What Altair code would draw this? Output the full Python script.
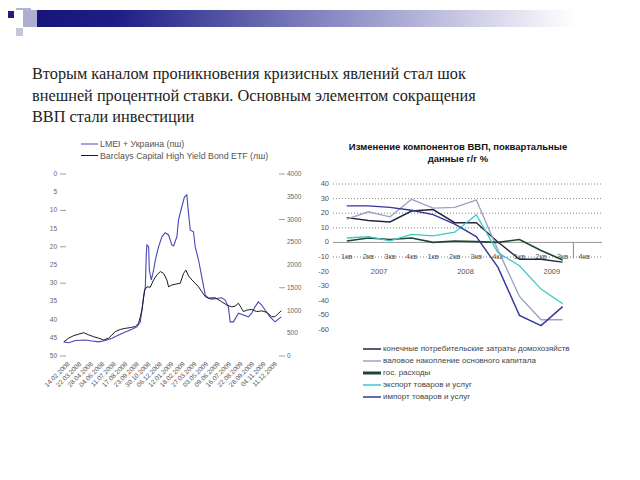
import altair as alt
import pandas as pd

# ---------------- data ----------------
PARAGRAPH = [
    "Вторым каналом проникновения кризисных явлений стал шок",
    "внешней процентной ставки. Основным элементом сокращения",
    "ВВП стали  инвестиции",
]

LEFT_LEGEND = ["LMEI + Украина (пш)", "Barclays Capital High Yield Bond ETF (лш)"]
DATE_LABELS = ["14.02.2008", "22.03.2008", "28.04.2008", "04.06.2008", "11.07.2008",
               "17.08.2008", "23.09.2008", "30.10.2008", "06.12.2008", "12.01.2009",
               "18.02.2009", "27.03.2009", "03.05.2009", "09.06.2009", "16.07.2009",
               "22.08.2009", "28.09.2009", "04.11.2009", "11.12.2009"]

# position along the date axis (in label intervals) and spread, bp (right scale)
LMEI_POS = [-0.43, 0, 0.58, 1.45, 2.02, 2.60, 3.18, 3.75, 4.33, 4.91, 5.48, 5.91, 6.21, 6.35,
            6.49, 6.64, 6.73, 6.78, 6.93, 6.99, 7.16, 7.36, 7.51, 7.79, 8.08, 8.37, 8.66,
            8.94, 9.09, 9.38, 9.52, 9.81, 10.04, 10.24, 10.39, 10.54, 10.82, 10.97, 11.26,
            11.54, 11.84, 12.12, 12.41, 12.99, 13.27, 13.57, 13.85, 14.0, 14.29, 14.72,
            15.15, 15.58, 15.87, 16.16, 16.45, 16.74, 17.03, 17.46, 17.9, 18.18, 18.44]
LMEI_BP = [310, 290, 340, 350, 330, 310, 340, 390, 460, 530, 590, 640, 750, 1010, 1300,
           1520, 2260, 2440, 2400, 1890, 1670, 1890, 2110, 2400, 2620, 2710, 2660, 2440,
           2420, 2620, 2990, 3280, 3500, 3540, 3140, 2770, 2730, 2400, 2110, 1740, 1340,
           1270, 1250, 1270, 1280, 1230, 1080, 750, 750, 940, 900, 860, 940, 1080, 1190,
           1120, 1010, 860, 750, 810, 860]

# Barclays HY ETF (left, inverted scale)
HY_POS = [-0.43, 0, 0.43, 0.87, 1.30, 1.73, 2.16, 2.60, 3.03, 3.46, 3.75, 4.04, 4.48, 4.91,
          5.34, 5.77, 6.06, 6.35, 6.58, 6.78, 7.07, 7.36, 7.65, 7.94, 8.23, 8.51, 8.66, 8.94,
          9.38, 9.67, 9.96, 10.16, 10.39, 10.68, 10.97, 11.26, 11.54, 11.84, 12.12, 12.70,
          13.27, 13.71, 14.14, 14.43, 14.72, 14.95, 15.15, 15.44, 15.87, 16.30, 16.74,
          17.17, 17.60, 17.90, 18.18, 18.44]
HY_VAL = [46.1, 45.1, 44.4, 44.0, 43.6, 44.2, 44.7, 45.1, 45.6, 45.1, 44.2, 43.3, 42.7,
          42.4, 42.2, 41.9, 41.0, 37.4, 31.9, 31.0, 31.1, 29.1, 27.7, 26.8, 27.3, 29.1,
          31.0, 30.5, 30.2, 30.0, 27.3, 26.4, 28.0, 29.1, 30.0, 31.0, 32.3, 33.7, 34.1,
          34.0, 35.1, 36.0, 36.5, 36.3, 35.5, 36.7, 37.8, 37.4, 37.2, 37.8, 37.6, 38.0,
          39.2, 39.2, 38.3, 37.6]

LEFT_TICKS = [0, 5, 10, 15, 20, 25, 30, 35, 40, 45, 50]
LEFT_TICK_MARKS = [0, 10, 20, 30, 50]
RIGHT_TICKS = [0, 500, 1000, 1500, 2000, 2500, 3000, 3500, 4000]
RIGHT_TICK_MARKS = [0, 1500, 3000, 4000]

RIGHT_TITLE = ["Изменение компонентов ВВП, поквартальные", "данные г/г %"]
QUARTERS = ["1кв", "2кв", "3кв", "4кв", "1кв", "2кв", "3кв", "4кв", "1кв", "2кв", "3кв", "4кв"]
YEARS = ["2007", "2008", "2009"]
YEAR_POS = [1.5, 5.5, 9.5]
SEPARATORS = [10.5]

SERIES = ["конечные потребительские затраты домохозяйств",
          "валовое накопление основного капитала",
          "гос. расходы",
          "экспорт товаров и услуг",
          "импорт товаров и услуг"]
HOUSEHOLD = [17, 15, 14, 21.5, 22.5, 13.5, 13.5, 0.3, -11.5, -11.5, -13.5]
INVESTMENT = [16, 21, 17.5, 29.5, 23.5, 24, 29, -5, -37, -53, -53]
GOVERNMENT = [1, 3, 2, 3, 0, 1, 0.5, 0, 2, -5.5, -12]
EXPORT = [3, 4, 1, 5.5, 4.5, 7, 19, -7, -16, -32, -42]
IMPORT = [25, 25, 24, 22, 19, 12.5, 4, -17, -50, -57, -44]
SERIES_VALUES = [HOUSEHOLD, INVESTMENT, GOVERNMENT, EXPORT, IMPORT]
SERIES_COLORS = ["#24243c", "#9ba3c6", "#1f4536", "#3cc8c8", "#34349a"]
SERIES_WIDTHS = [1.4, 1.4, 1.6, 1.3, 1.4]

R_Y_TICKS = [40, 30, 20, 10, 0, -10, -20, -30, -40, -50, -60]
R_GRID = [40, 30, 20, 10, -10]

# ---------------- layout helpers ----------------
M = 8  # page margin
W, H = 624, 464


def cx(p):
    return p - M


SANS = "Liberation Sans"
dummy = pd.DataFrame({"a": [0]})
layers = []


def text_at(txt, x, y, size, font=SANS, color="#444", align="left", baseline="middle",
            weight="normal"):
    return alt.Chart(pd.DataFrame({"t": [txt]})).mark_text(
        align=align, baseline=baseline, font=font, fontSize=size, color=color,
        fontWeight=weight
    ).encode(x=alt.value(x), y=alt.value(y), text="t:N")


# ---------------- slide header ----------------
grad = alt.Gradient(
    gradient="linear",
    stops=[alt.GradientStop(color="#15157a", offset=0),
           alt.GradientStop(color="#1e1e86", offset=0.15),
           alt.GradientStop(color="#8a8ac4", offset=0.55),
           alt.GradientStop(color="#ffffff", offset=1)],
    x1=0, x2=1, y1=0, y2=0)
layers.append(alt.Chart(dummy).mark_rect(color=grad).encode(
    x=alt.value(cx(36)), x2=alt.value(cx(575)), y=alt.value(cx(10)), y2=alt.value(cx(27))))
for (x0, y0, x1, y1, c) in [(8, 11, 14, 18, "#20207a"), (16, 8, 31, 10, "#b4b4d8"),
                            (23, 10, 37, 27, "#aeaed2"), (16, 28, 23, 36, "#c6c6d6")]:
    layers.append(alt.Chart(dummy).mark_rect(color=c).encode(
        x=alt.value(cx(x0)), x2=alt.value(cx(x1)), y=alt.value(cx(y0)), y2=alt.value(cx(y1))))

for i, line in enumerate(PARAGRAPH):
    layers.append(text_at(line, cx(32), cx([79, 101, 122][i]), 16.3,
                          font="Liberation Serif", color="#222", baseline="alphabetic"))

# ---------------- left chart ----------------
LX = alt.Scale(domain=[-0.5, 18.5], range=[cx(63), cx(282)], nice=False, zero=False)
LY_BP = alt.Scale(domain=[0, 4000], range=[cx(356), cx(174)], nice=False, zero=False)
LY_HY = alt.Scale(domain=[0, 50], range=[cx(174), cx(356)], nice=False, zero=False)

df_lmei = pd.DataFrame({"x": LMEI_POS, "v": LMEI_BP})
df_hy = pd.DataFrame({"x": HY_POS, "v": HY_VAL})

layers.append(alt.Chart(df_lmei).mark_line(color="#4848b8", strokeWidth=1.1).encode(
    x=alt.X("x:Q", scale=LX, axis=None), y=alt.Y("v:Q", scale=LY_BP, axis=None)))
layers.append(alt.Chart(df_hy).mark_line(color="#1c1c1c", strokeWidth=1.0).encode(
    x=alt.X("x:Q", scale=LX, axis=None), y=alt.Y("v:Q", scale=LY_HY, axis=None)))

# left axis
df_lt = pd.DataFrame({"v": LEFT_TICKS, "t": [str(v) for v in LEFT_TICKS]})
layers.append(alt.Chart(df_lt).mark_text(align="right", baseline="middle", font=SANS,
                                         fontSize=6.5, color="#666").encode(
    x=alt.value(cx(57)), y=alt.Y("v:Q", scale=LY_HY, axis=None), text="t:N"))
layers.append(alt.Chart(pd.DataFrame({"v": LEFT_TICK_MARKS})).mark_rule(
    color="#888", strokeWidth=0.8).encode(
    x=alt.value(cx(60)), x2=alt.value(cx(66)), y=alt.Y("v:Q", scale=LY_HY, axis=None)))
# right axis
df_rt = pd.DataFrame({"v": RIGHT_TICKS, "t": [str(v) for v in RIGHT_TICKS]})
layers.append(alt.Chart(df_rt).mark_text(align="left", baseline="middle", font=SANS,
                                         fontSize=6.5, color="#666").encode(
    x=alt.value(cx(287)), y=alt.Y("v:Q", scale=LY_BP, axis=None), text="t:N"))
layers.append(alt.Chart(pd.DataFrame({"v": RIGHT_TICK_MARKS})).mark_rule(
    color="#888", strokeWidth=0.8).encode(
    x=alt.value(cx(279)), x2=alt.value(cx(285)), y=alt.Y("v:Q", scale=LY_BP, axis=None)))
# date labels
df_dl = pd.DataFrame({"x": list(range(len(DATE_LABELS))), "t": DATE_LABELS})
layers.append(alt.Chart(df_dl).mark_text(align="right", baseline="middle", font=SANS,
                                         fontSize=6.5, color="#555", angle=315).encode(
    x=alt.X("x:Q", scale=LX, axis=None), y=alt.value(cx(363)), text="t:N"))
# legend
for i, (lab, col) in enumerate(zip(LEFT_LEGEND, ["#4848b8", "#1c1c1c"])):
    yy = cx([144, 155.5][i])
    layers.append(alt.Chart(dummy).mark_rule(color=col, strokeWidth=1).encode(
        x=alt.value(cx(81)), x2=alt.value(cx(98)), y=alt.value(yy)))
    layers.append(text_at(lab, cx(100), yy, 8.8, color="#555"))

# ---------------- right chart ----------------
RX = alt.Scale(domain=[-0.5, 11.5], range=[cx(336), cx(595)], nice=False, zero=False)
RY = alt.Scale(domain=[-60, 40], range=[cx(330), cx(184)], nice=False, zero=False)

for i, line in enumerate(RIGHT_TITLE):
    layers.append(text_at(line, cx(458), cx([149.5, 161.5][i]), 9.5, color="#111",
                          align="center", baseline="alphabetic", weight="bold"))

layers.append(alt.Chart(pd.DataFrame({"v": R_GRID})).mark_rule(
    color="#666", strokeWidth=0.8, strokeDash=[1, 2]).encode(
    x=alt.value(cx(333)), x2=alt.value(cx(602)), y=alt.Y("v:Q", scale=RY, axis=None)))
layers.append(alt.Chart(pd.DataFrame({"v": [0]})).mark_rule(
    color="#999", strokeWidth=1).encode(
    x=alt.value(cx(333)), x2=alt.value(cx(602)), y=alt.Y("v:Q", scale=RY, axis=None)))
layers.append(alt.Chart(pd.DataFrame({"x": SEPARATORS, "y0": [0], "y1": [-11]})).mark_rule(
    color="#888", strokeWidth=1).encode(
    x=alt.X("x:Q", scale=RX, axis=None),
    y=alt.Y("y0:Q", scale=RY, axis=None), y2="y1:Q"))

df_ry = pd.DataFrame({"v": R_Y_TICKS, "t": [str(v) for v in R_Y_TICKS]})
layers.append(alt.Chart(df_ry).mark_text(align="right", baseline="middle", font=SANS,
                                         fontSize=7.5, color="#555").encode(
    x=alt.value(cx(329)), y=alt.Y("v:Q", scale=RY, axis=None), text="t:N"))

df_q = pd.DataFrame({"x": list(range(len(QUARTERS))), "t": QUARTERS, "v": [-10] * len(QUARTERS)})
layers.append(alt.Chart(df_q).mark_text(align="center", baseline="middle", font=SANS,
                                        fontSize=7.5, color="#555").encode(
    x=alt.X("x:Q", scale=RX, axis=None), y=alt.Y("v:Q", scale=RY, axis=None), text="t:N"))
df_y = pd.DataFrame({"x": YEAR_POS, "t": YEARS, "v": [-20] * len(YEARS)})
layers.append(alt.Chart(df_y).mark_text(align="center", baseline="middle", font=SANS,
                                        fontSize=7.5, color="#555").encode(
    x=alt.X("x:Q", scale=RX, axis=None), y=alt.Y("v:Q", scale=RY, axis=None), text="t:N"))

for name, vals, col, sw in zip(SERIES, SERIES_VALUES, SERIES_COLORS, SERIES_WIDTHS):
    df_s = pd.DataFrame({"x": list(range(len(vals))), "v": vals})
    layers.append(alt.Chart(df_s).mark_line(color=col, strokeWidth=sw).encode(
        x=alt.X("x:Q", scale=RX, axis=None), y=alt.Y("v:Q", scale=RY, axis=None)))

for i, (name, col) in enumerate(zip(SERIES, SERIES_COLORS)):
    yy = cx(349 + 12 * i)
    layers.append(alt.Chart(dummy).mark_rule(color=col, strokeWidth=3 if i == 2 else 1.5).encode(
        x=alt.value(cx(363)), x2=alt.value(cx(381)), y=alt.value(yy)))
    layers.append(text_at(name, cx(383), yy, 8, color="#444"))

chart = alt.layer(*layers).resolve_scale(x="independent", y="independent").properties(
    width=W, height=H, padding=0, autosize="none"
).configure_view(stroke=None)

chart.save("out.html", embed_options={"renderer": "svg", "actions": False})
